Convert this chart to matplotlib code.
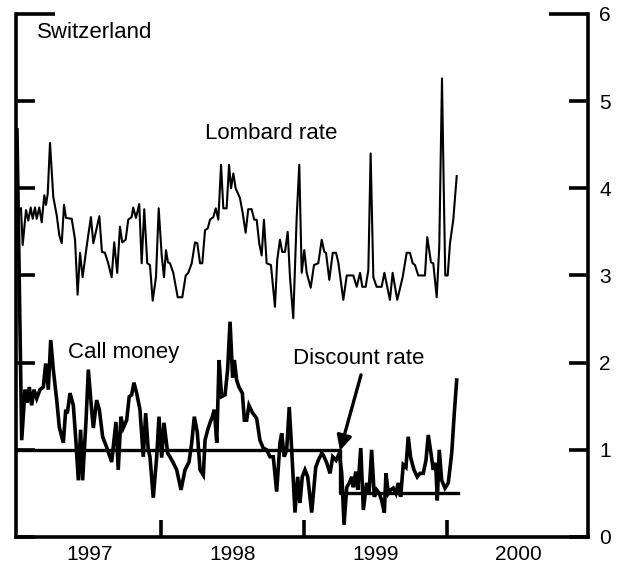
import matplotlib
matplotlib.use("Agg")
import matplotlib.pyplot as plt
import numpy as np

plt.rcParams["font.family"] = ["Liberation Sans", "DejaVu Sans"]

# ---------- Data (dates as fractional years, rates in %) ---------- #

lombard_dates = [
    1997.021, 1997.033, 1997.056, 1997.072, 1997.089, 1997.103, 1997.119, 1997.131,
    1997.149, 1997.166, 1997.184, 1997.196, 1997.208, 1997.224, 1997.247, 1997.271,
    1997.289, 1997.306, 1997.322, 1997.336, 1997.376, 1997.399, 1997.417, 1997.434,
    1997.452, 1997.480, 1997.510, 1997.527, 1997.569, 1997.587, 1997.608, 1997.631,
    1997.655, 1997.673, 1997.694, 1997.713, 1997.729, 1997.753, 1997.771, 1997.795,
    1997.806, 1997.825, 1997.848, 1997.865, 1997.883, 1997.904, 1997.923, 1997.942,
    1997.965, 1997.984, 1998.005, 1998.021, 1998.035, 1998.049, 1998.063, 1998.086,
    1998.117, 1998.149, 1998.173, 1998.191, 1998.215, 1998.238, 1998.254, 1998.273,
    1998.289, 1998.308, 1998.327, 1998.343, 1998.366, 1998.383, 1998.401, 1998.420,
    1998.436, 1998.459, 1998.476, 1998.490, 1998.506, 1998.522, 1998.552, 1998.571,
    1998.592, 1998.610, 1998.634, 1998.652, 1998.669, 1998.687, 1998.704, 1998.720,
    1998.739, 1998.769, 1998.797, 1998.813, 1998.832, 1998.848, 1998.867, 1998.886,
    1998.902, 1998.925, 1998.949, 1998.967, 1998.984, 1999.002, 1999.019, 1999.047,
    1999.070, 1999.100, 1999.124, 1999.142, 1999.154, 1999.177, 1999.201, 1999.224,
    1999.240, 1999.275, 1999.299, 1999.345, 1999.369, 1999.392, 1999.408, 1999.431,
    1999.450, 1999.466, 1999.485, 1999.508, 1999.543, 1999.562, 1999.601, 1999.620,
    1999.652, 1999.690, 1999.718, 1999.741, 1999.760, 1999.776, 1999.799, 1999.846,
    1999.862, 1999.888, 1999.904, 1999.928, 1999.946, 1999.965, 1999.979, 1999.988,
    2000.005, 2000.021, 2000.044, 2000.068,
]
lombard_rate = [
    3.77, 3.35, 3.75, 3.63, 3.78, 3.65, 3.78, 3.65,
    3.78, 3.61, 3.92, 3.81, 3.94, 4.52, 3.90, 3.69,
    3.46, 3.37, 3.81, 3.66, 3.65, 3.41, 2.78, 3.26,
    2.98, 3.33, 3.67, 3.37, 3.68, 3.27, 3.26, 3.14,
    2.98, 3.38, 3.03, 3.56, 3.38, 3.41, 3.64, 3.67,
    3.78, 3.66, 3.82, 3.14, 3.76, 3.14, 3.12, 2.71,
    2.98, 3.77, 3.23, 2.98, 3.29, 3.15, 3.14, 3.03,
    2.75, 2.75, 3.00, 3.03, 3.14, 3.38, 3.37, 3.14,
    3.14, 3.52, 3.54, 3.64, 3.67, 3.77, 3.64, 4.27,
    3.77, 3.77, 4.27, 4.00, 4.17, 4.00, 3.89, 3.72,
    3.49, 3.76, 3.76, 3.64, 3.64, 3.37, 3.23, 3.64,
    3.14, 3.12, 2.64, 3.18, 3.41, 3.27, 3.27, 3.50,
    2.98, 2.51, 3.67, 4.27, 3.03, 3.29, 3.03, 2.86,
    3.12, 3.14, 3.41, 3.27, 3.26, 2.95, 3.26, 3.26,
    3.15, 2.72, 3.00, 3.00, 2.87, 3.03, 2.87, 2.87,
    3.06, 4.40, 2.98, 2.87, 2.87, 3.03, 2.72, 3.03,
    2.72, 2.98, 3.26, 3.26, 3.14, 3.12, 3.00, 3.00,
    3.44, 3.15, 3.14, 2.75, 3.33, 5.26, 3.83, 3.00,
    3.00, 3.37, 3.64, 4.14,
]

call_dates = [
    1996.993, 1997.026, 1997.049, 1997.065, 1997.079, 1997.096, 1997.112, 1997.131,
    1997.154, 1997.177, 1997.194, 1997.212, 1997.229, 1997.247, 1997.271, 1997.289,
    1997.317, 1997.334, 1997.345, 1997.364, 1997.387, 1997.406, 1997.422, 1997.438,
    1997.452, 1997.476, 1997.492, 1997.515, 1997.527, 1997.550, 1997.569, 1997.592,
    1997.620, 1997.655, 1997.685, 1997.701, 1997.720, 1997.736, 1997.760, 1997.778,
    1997.795, 1997.811, 1997.830, 1997.853, 1997.876, 1997.893, 1997.911, 1997.923,
    1997.946, 1997.970, 1997.986, 1998.005, 1998.021, 1998.047, 1998.063, 1998.086,
    1998.110, 1998.140, 1998.168, 1998.196, 1998.215, 1998.233, 1998.254, 1998.273,
    1998.296, 1998.308, 1998.327, 1998.343, 1998.359, 1998.373, 1998.390, 1998.406,
    1998.424, 1998.448, 1998.466, 1998.483, 1998.501, 1998.513, 1998.529, 1998.545,
    1998.569, 1998.583, 1998.599, 1998.615, 1998.638, 1998.669, 1998.692, 1998.715,
    1998.739, 1998.762, 1998.785, 1998.809, 1998.832, 1998.844, 1998.862, 1998.879,
    1998.897, 1998.914, 1998.937, 1998.956, 1998.972, 1998.988, 1999.007, 1999.026,
    1999.054, 1999.082, 1999.100, 1999.124, 1999.135, 1999.159, 1999.182, 1999.201,
    1999.224, 1999.247, 1999.264, 1999.280, 1999.299, 1999.317, 1999.334, 1999.345,
    1999.362, 1999.376, 1999.397, 1999.415, 1999.438, 1999.455, 1999.473, 1999.492,
    1999.508, 1999.527, 1999.543, 1999.562, 1999.573, 1999.590, 1999.606, 1999.624,
    1999.643, 1999.659, 1999.676, 1999.694, 1999.713, 1999.729, 1999.746, 1999.769,
    1999.792, 1999.811, 1999.834, 1999.853, 1999.869, 1999.888, 1999.904, 1999.921,
    1999.932, 1999.946, 1999.963, 1999.986, 2000.009, 2000.033, 2000.051, 2000.068,
]
call_money = [
    4.67, 1.11, 1.69, 1.54, 1.72, 1.51, 1.69, 1.59,
    1.69, 1.72, 1.99, 1.69, 2.26, 1.92, 1.57, 1.26,
    1.08, 1.46, 1.42, 1.65, 1.51, 1.08, 0.65, 1.23,
    0.65, 1.34, 1.92, 1.46, 1.25, 1.57, 1.46, 1.15,
    1.03, 0.86, 1.32, 0.77, 1.38, 1.25, 1.34, 1.61,
    1.63, 1.77, 1.65, 1.46, 0.92, 1.42, 1.00, 0.92,
    0.45, 0.92, 1.38, 0.91, 1.31, 0.96, 0.92, 0.85,
    0.77, 0.54, 0.77, 0.86, 1.08, 1.38, 1.20, 0.77,
    0.71, 1.11, 1.23, 1.31, 1.38, 1.46, 1.08, 2.03,
    1.61, 1.63, 1.92, 2.47, 1.83, 2.03, 1.80, 1.72,
    1.65, 1.34, 1.34, 1.51, 1.43, 1.36, 1.11, 1.02,
    1.00, 0.92, 0.92, 0.52, 1.08, 1.19, 0.92, 1.00,
    1.49, 1.00, 0.28, 0.69, 0.39, 0.69, 0.77, 0.69,
    0.28, 0.80, 0.88, 0.96, 0.94, 0.85, 0.73, 0.92,
    0.88, 0.96, 0.73, 0.14, 0.57, 0.62, 0.69, 0.57,
    0.75, 0.54, 1.02, 0.31, 0.62, 0.50, 1.00, 0.46,
    0.54, 0.50, 0.42, 0.28, 0.73, 0.50, 0.54, 0.56,
    0.50, 0.62, 0.46, 0.83, 0.80, 1.15, 0.91, 0.77,
    0.69, 0.73, 0.73, 0.88, 1.17, 0.96, 0.77, 0.85,
    0.42, 1.00, 0.65, 0.56, 0.62, 0.96, 1.42, 1.80,
]

discount_dates = [1996.986, 1999.252, 1999.252, 2000.075]
discount_rate = [1.0, 1.0, 0.5, 0.5]

year_labels = ["1997", "1998", "1999", "2000"]
year_label_pos = [1997.5, 1998.5, 1999.5, 2000.5]
year_ticks = [1998, 1999, 2000]

# ---------- Figure ---------- #

fig = plt.figure(figsize=(6.24, 5.65), dpi=100)
ax = fig.add_axes([0.0256, 0.0496, 0.9167, 0.9257])

ax.plot(lombard_dates, lombard_rate, color="black", linewidth=1.5)
ax.plot(call_dates, call_money, color="black", linewidth=2.6, solid_joinstyle="miter")
ax.plot(discount_dates, discount_rate, color="black", linewidth=2.4)

ax.set_xlim(1996.986, 2000.986)
ax.set_ylim(0, 6)

for side in ["left", "right", "bottom"]:
    ax.spines[side].set_linewidth(2.6)
ax.spines["top"].set_visible(False)

# y axis: labels on the right, inward ticks both sides, longer at the top
ax.set_yticks([0, 1, 2, 3, 4, 5])
ax.set_yticks([6], labels=["6"], minor=True)
ax.tick_params(axis="y", which="both", direction="in", left=True, right=True,
               labelleft=False, labelright=True, width=2.6, pad=8, labelsize=15)
ax.tick_params(axis="y", which="major", length=14)
ax.tick_params(axis="y", which="minor", length=28)

# x axis: ticks at year boundaries, labels at mid-year
ax.set_xticks(year_ticks, labels=[""] * len(year_ticks))
ax.set_xticks(year_label_pos, labels=year_labels, minor=True)
ax.tick_params(axis="x", which="major", direction="in", length=12, width=2.6)
ax.tick_params(axis="x", which="minor", length=0, pad=6, labelsize=15)

# ---------- Annotations ---------- #

ax.text(0.037, 0.964, "Switzerland", transform=ax.transAxes,
        fontsize=16, va="center", ha="left")
ax.text(0.330, 0.772, "Lombard rate", transform=ax.transAxes,
        fontsize=16, va="center", ha="left")
ax.text(0.091, 0.352, "Call money", transform=ax.transAxes,
        fontsize=16, va="center", ha="left")
ax.text(0.484, 0.342, "Discount rate", transform=ax.transAxes,
        fontsize=16, va="center", ha="left")

ax.annotate("", xy=(1999.252, 0.99), xytext=(1999.399, 1.86),
            arrowprops=dict(arrowstyle="-|>", color="black", lw=2.4,
                            mutation_scale=22, shrinkA=0, shrinkB=0))

fig.savefig("out.png", dpi=100)
